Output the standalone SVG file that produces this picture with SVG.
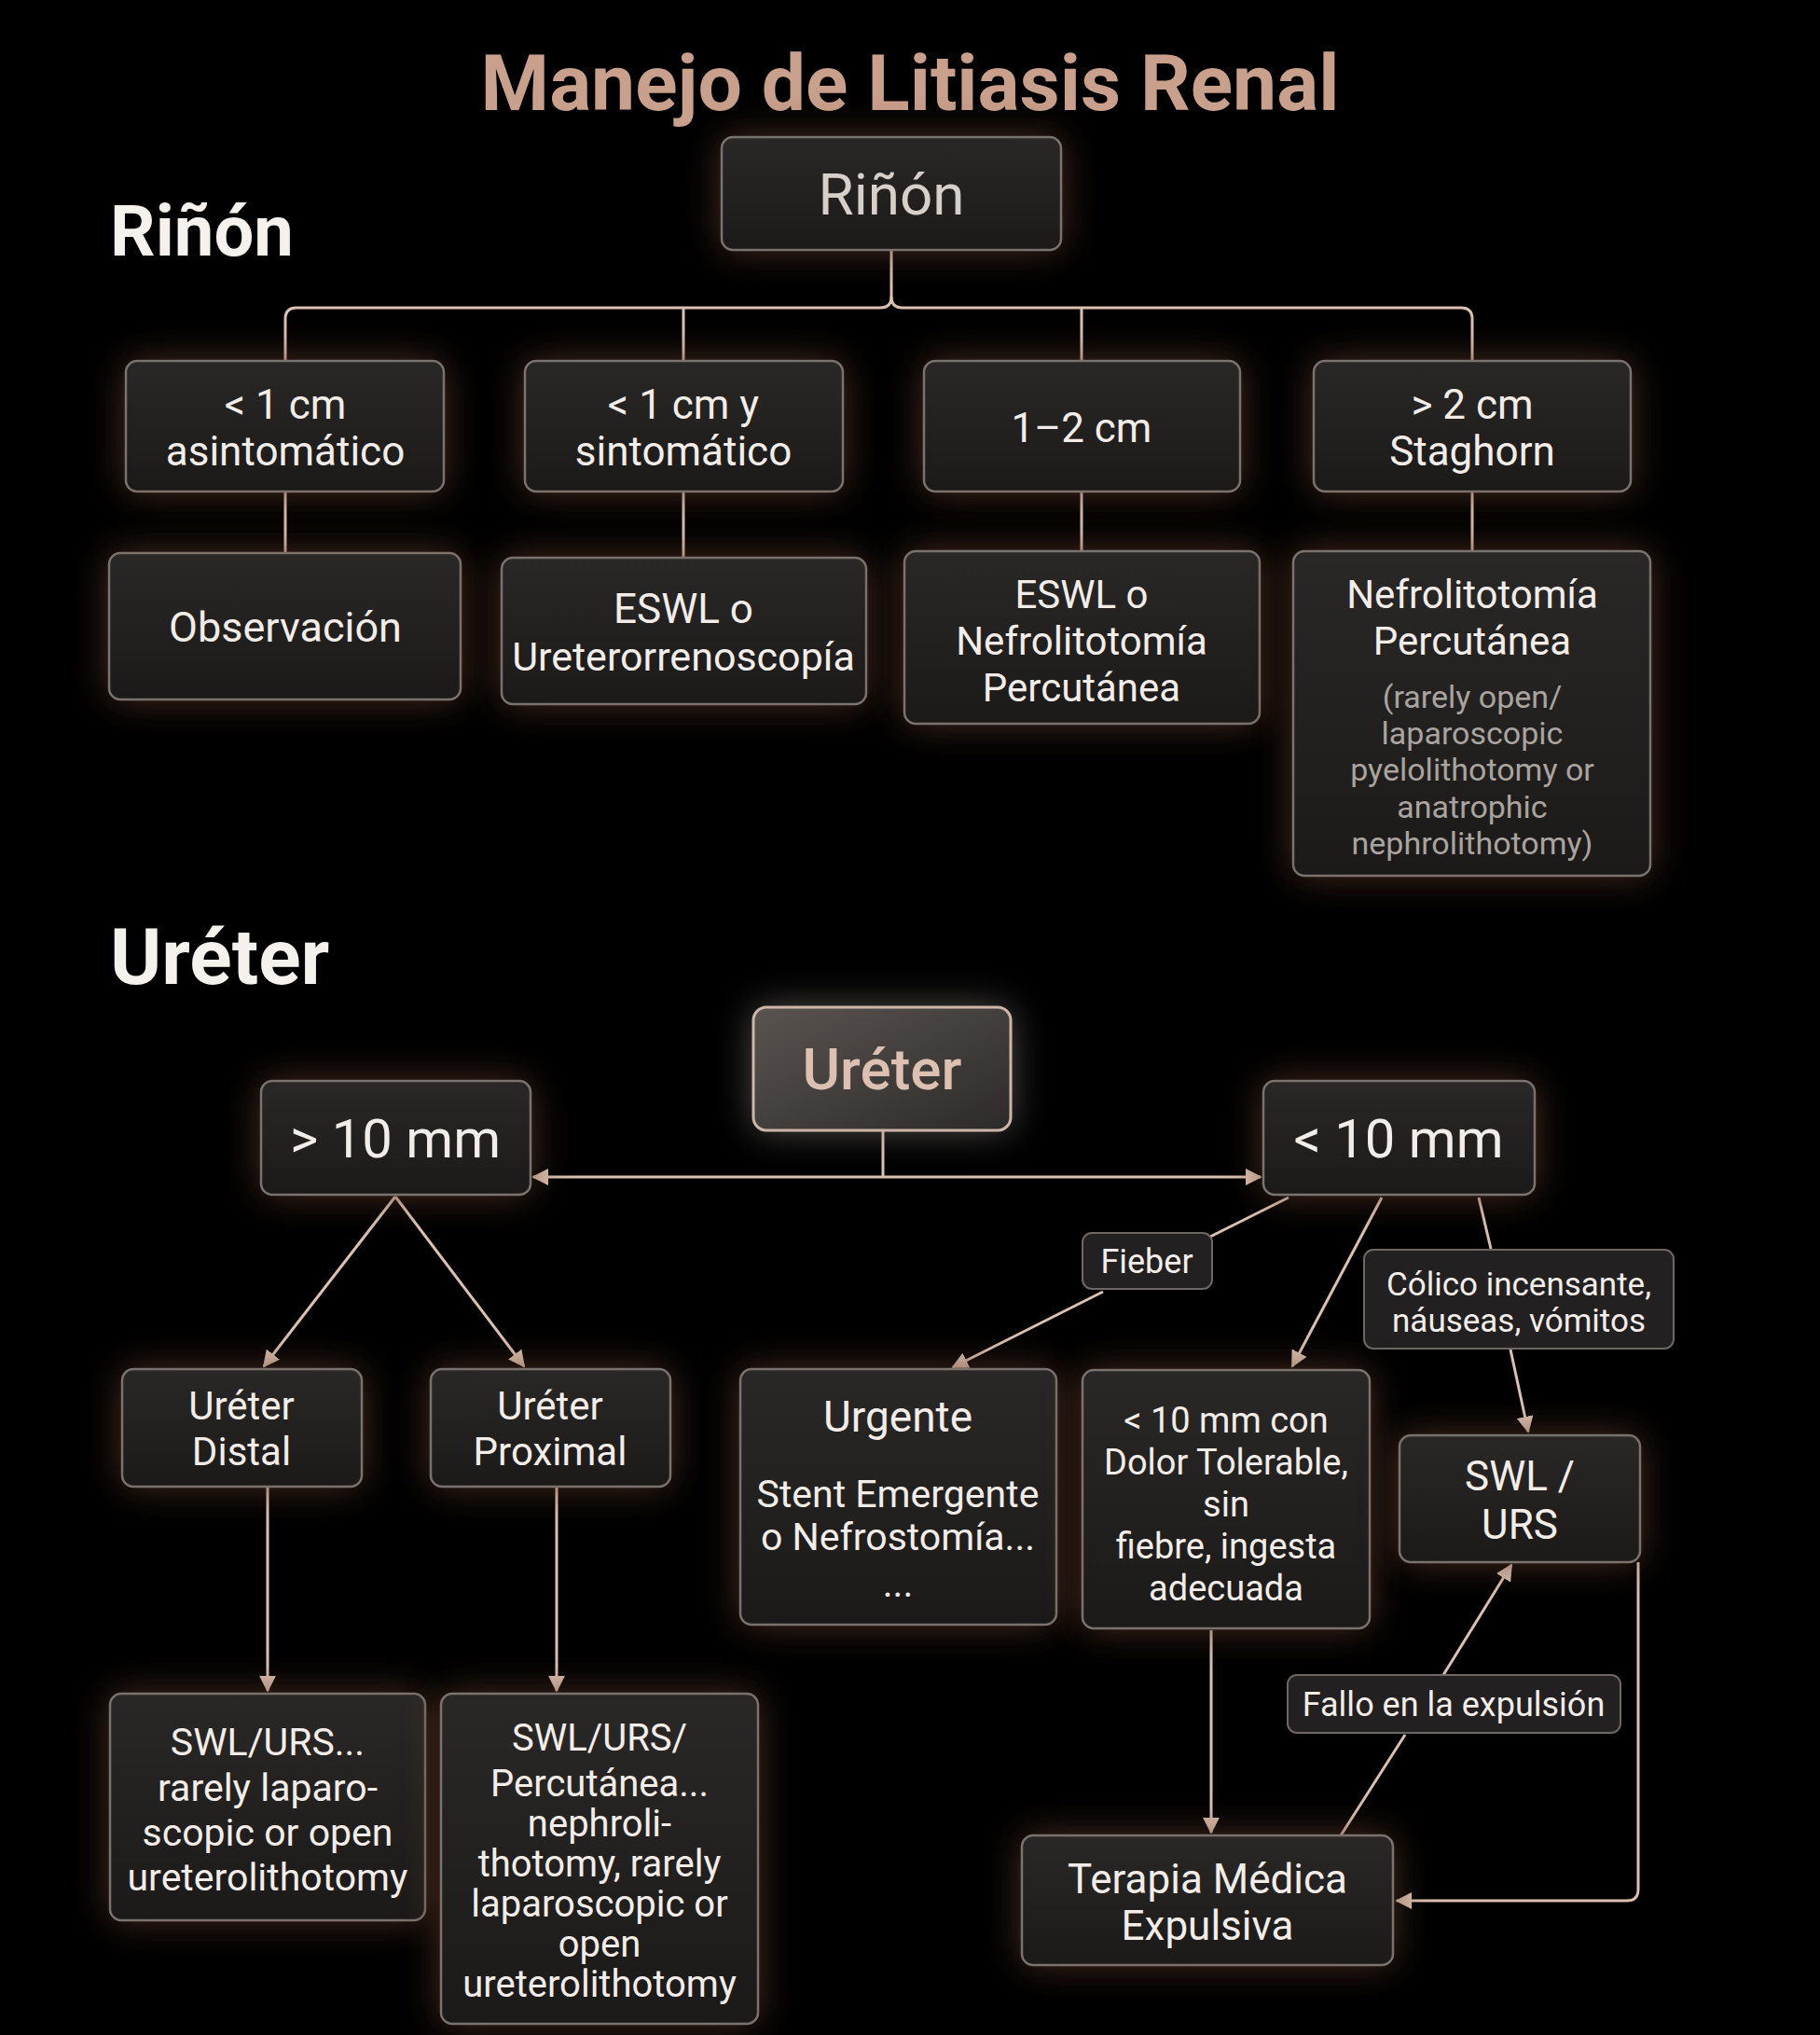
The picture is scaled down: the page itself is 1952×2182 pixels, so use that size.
<svg xmlns="http://www.w3.org/2000/svg" width="1952" height="2182" viewBox="0 0 1952 2182">
<defs>
<linearGradient id="boxfill" x1="0" y1="0" x2="0" y2="1">
<stop offset="0" stop-color="#2a2827"/>
<stop offset="1" stop-color="#1b1a19"/>
</linearGradient>
<linearGradient id="topfill" x1="0" y1="0" x2="1" y2="1">
<stop offset="0" stop-color="#5a5450"/>
<stop offset="1" stop-color="#2c2a29"/>
</linearGradient>
<filter id="glow" x="-50%" y="-50%" width="200%" height="200%">
<feGaussianBlur stdDeviation="20"/>
</filter>
<marker id="arr" viewBox="0 0 10 10" refX="9" refY="5" markerWidth="6" markerHeight="6" markerUnits="strokeWidth" orient="auto-start-reverse">
<path d="M0,0 L10,5 L0,10 z" fill="#dcc0b0"/>
</marker>
<style>
.halo{fill:#5e3b2b;opacity:0.8;filter:url(#glow)}
.halo2{fill:#8a8480;opacity:0.6;filter:url(#glow)}
.box{fill:url(#boxfill);stroke:#7a726d;stroke-width:2.5}
.lbl{fill:#222020;stroke:#6e6763;stroke-width:2}
.t{font-family:Roboto,"Liberation Sans",sans-serif;fill:#f2ede8;text-anchor:middle}
.sm{font-family:Roboto,"Liberation Sans",sans-serif;fill:#a9a49f;text-anchor:middle;font-size:34px}
.h{font-family:Roboto,"Liberation Sans",sans-serif;font-weight:700;fill:#f5f1ec}
.c{fill:none;stroke:#dcc0b0;stroke-width:3}
.ca{fill:none;stroke:#dcc0b0;stroke-width:3;marker-end:url(#arr)}
</style>
</defs>
<rect width="1952" height="2182" fill="#000"/>

<text x="976" y="118" class="h" font-size="84" text-anchor="middle" style="fill:#c9a08c">Manejo de Litiasis Renal</text>
<text x="118" y="274" class="h" font-size="76">Riñón</text>
<text x="118" y="1055" class="h" font-size="84">Uréter</text>

<g id="connectors">
<path class="c" d="M956,268 V318 Q956,330 944,330 H318 Q306,330 306,342 V387"/>
<path class="c" d="M956,318 Q956,330 968,330 H1567 Q1579,330 1579,342 V387"/>
<path class="c" d="M733,330 V387"/>
<path class="c" d="M1160,330 V387"/>
<path class="c" d="M306,527 V593"/>
<path class="c" d="M733,527 V598"/>
<path class="c" d="M1160,527 V591"/>
<path class="c" d="M1579,527 V591"/>

<path class="c" d="M947,1212 V1262"/>
<path class="ca" d="M947,1262 H572"/>
<path class="ca" d="M947,1262 H1352"/>
<path class="ca" d="M424,1283 L283,1465"/>
<path class="ca" d="M424,1283 L562,1465"/>
<path class="ca" d="M287,1594 V1813"/>
<path class="ca" d="M597,1594 V1813"/>

<path class="c" d="M1382,1284 L1298,1326"/>
<path class="ca" d="M1183,1385 L1022,1466"/>
<path class="ca" d="M1482,1284 L1386,1465"/>
<path class="c" d="M1586,1284 L1599,1339"/>
<path class="ca" d="M1620,1447 L1639,1535"/>
<path class="ca" d="M1299,1748 V1965"/>
<path class="c" d="M1438,1968 L1507,1860"/>
<path class="ca" d="M1548,1796 L1621,1678"/>
<path class="ca" d="M1757,1675 V2026 Q1757,2038 1745,2038 H1498"/>
</g>

<g id="n-rinon">
<rect class="halo" x="774" y="147" width="364" height="121" rx="12"/>
<rect class="box" x="774" y="147" width="364" height="121" rx="12"/>
<text class="t" x="956" y="230" font-size="62" style="fill:#d6cfca">Riñón</text>
</g>

<g id="n-a1">
<rect class="halo" x="135" y="387" width="341" height="140" rx="12"/>
<rect class="box" x="135" y="387" width="341" height="140" rx="12"/>
<text class="t" x="306" y="449" font-size="44">&lt; 1 cm</text>
<text class="t" x="306" y="499" font-size="44">asintomático</text>
</g>
<g id="n-a2">
<rect class="halo" x="563" y="387" width="341" height="140" rx="12"/>
<rect class="box" x="563" y="387" width="341" height="140" rx="12"/>
<text class="t" x="733" y="449" font-size="44">&lt; 1 cm y</text>
<text class="t" x="733" y="499" font-size="44">sintomático</text>
</g>
<g id="n-a3">
<rect class="halo" x="991" y="387" width="339" height="140" rx="12"/>
<rect class="box" x="991" y="387" width="339" height="140" rx="12"/>
<text class="t" x="1160" y="474" font-size="44">1–2 cm</text>
</g>
<g id="n-a4">
<rect class="halo" x="1409" y="387" width="340" height="140" rx="12"/>
<rect class="box" x="1409" y="387" width="340" height="140" rx="12"/>
<text class="t" x="1579" y="449" font-size="44">&gt; 2 cm</text>
<text class="t" x="1579" y="499" font-size="44">Staghorn</text>
</g>

<g id="n-b1">
<rect class="halo" x="117" y="593" width="377" height="157" rx="12"/>
<rect class="box" x="117" y="593" width="377" height="157" rx="12"/>
<text class="t" x="306" y="688" font-size="45">Observación</text>
</g>
<g id="n-b2">
<rect class="halo" x="538" y="598" width="391" height="157" rx="12"/>
<rect class="box" x="538" y="598" width="391" height="157" rx="12"/>
<text class="t" x="733" y="668" font-size="44">ESWL o</text>
<text class="t" x="733" y="719" font-size="43">Ureterorrenoscopía</text>
</g>
<g id="n-b3">
<rect class="halo" x="970" y="591" width="381" height="185" rx="12"/>
<rect class="box" x="970" y="591" width="381" height="185" rx="12"/>
<text class="t" x="1160" y="652" font-size="42">ESWL o</text>
<text class="t" x="1160" y="702" font-size="42">Nefrolitotomía</text>
<text class="t" x="1160" y="752" font-size="42">Percutánea</text>
</g>
<g id="n-b4">
<rect class="halo" x="1387" y="591" width="383" height="348" rx="12"/>
<rect class="box" x="1387" y="591" width="383" height="348" rx="12"/>
<text class="t" x="1579" y="652" font-size="42">Nefrolitotomía</text>
<text class="t" x="1579" y="702" font-size="42">Percutánea</text>
<text class="sm" x="1579" y="759">(rarely open/</text>
<text class="sm" x="1579" y="798">laparoscopic</text>
<text class="sm" x="1579" y="837">pyelolithotomy or</text>
<text class="sm" x="1579" y="877">anatrophic</text>
<text class="sm" x="1579" y="916">nephrolithotomy)</text>
</g>

<g id="n-ureter">
<rect class="halo2" x="808" y="1080" width="276" height="132" rx="14"/>
<rect x="808" y="1080" width="276" height="132" rx="14" fill="url(#topfill)" stroke="#cdb6a8" stroke-width="3"/>
<text class="t" x="946" y="1168" font-size="62" font-weight="500" style="fill:#dcc0b2">Uréter</text>
</g>

<g id="n-gt10">
<rect class="halo" x="280" y="1159" width="289" height="122" rx="12"/>
<rect class="box" x="280" y="1159" width="289" height="122" rx="12"/>
<text class="t" x="424" y="1241" font-size="58">&gt; 10 mm</text>
</g>
<g id="n-lt10">
<rect class="halo" x="1355" y="1159" width="291" height="122" rx="12"/>
<rect class="box" x="1355" y="1159" width="291" height="122" rx="12"/>
<text class="t" x="1500" y="1241" font-size="58">&lt; 10 mm</text>
</g>

<g id="n-distal">
<rect class="halo" x="131" y="1468" width="257" height="126" rx="12"/>
<rect class="box" x="131" y="1468" width="257" height="126" rx="12"/>
<text class="t" x="259" y="1522" font-size="42">Uréter</text>
<text class="t" x="259" y="1571" font-size="42">Distal</text>
</g>
<g id="n-prox">
<rect class="halo" x="462" y="1468" width="257" height="126" rx="12"/>
<rect class="box" x="462" y="1468" width="257" height="126" rx="12"/>
<text class="t" x="590" y="1522" font-size="42">Uréter</text>
<text class="t" x="590" y="1571" font-size="42">Proximal</text>
</g>

<g id="n-distal-tx">
<rect class="halo" x="118" y="1816" width="338" height="243" rx="12"/>
<rect class="box" x="118" y="1816" width="338" height="243" rx="12"/>
<text class="t" x="287" y="1882" font-size="41">SWL/URS...</text>
<text class="t" x="287" y="1931" font-size="41">rarely laparo-</text>
<text class="t" x="287" y="1979" font-size="41">scopic or open</text>
<text class="t" x="287" y="2027" font-size="41">ureterolithotomy</text>
</g>
<g id="n-prox-tx">
<rect class="halo" x="473" y="1816" width="340" height="354" rx="12"/>
<rect class="box" x="473" y="1816" width="340" height="354" rx="12"/>
<text class="t" x="643" y="1877" font-size="40">SWL/URS/</text>
<text class="t" x="643" y="1926" font-size="40">Percutánea...</text>
<text class="t" x="643" y="1969" font-size="40">nephroli-</text>
<text class="t" x="643" y="2012" font-size="40">thotomy, rarely</text>
<text class="t" x="643" y="2055" font-size="40">laparoscopic or</text>
<text class="t" x="643" y="2098" font-size="40">open</text>
<text class="t" x="643" y="2141" font-size="40">ureterolithotomy</text>
</g>

<g id="l-fieber">
<rect class="lbl" x="1161" y="1322" width="139" height="60" rx="10"/>
<text class="t" x="1230" y="1365" font-size="36">Fieber</text>
</g>
<g id="l-colico">
<rect class="lbl" x="1463" y="1340" width="332" height="106" rx="10"/>
<text class="t" x="1629" y="1389" font-size="35">Cólico incensante,</text>
<text class="t" x="1629" y="1428" font-size="35">náuseas, vómitos</text>
</g>

<g id="n-urgente">
<rect class="halo" x="794" y="1468" width="339" height="274" rx="12"/>
<rect class="box" x="794" y="1468" width="339" height="274" rx="12"/>
<text class="t" x="963" y="1535" font-size="46">Urgente</text>
<text class="t" x="963" y="1616" font-size="41">Stent Emergente</text>
<text class="t" x="963" y="1662" font-size="41">o Nefrostomía...</text>
<text class="t" x="963" y="1712" font-size="41">...</text>
</g>
<g id="n-dolor">
<rect class="halo" x="1161" y="1469" width="308" height="277" rx="12"/>
<rect class="box" x="1161" y="1469" width="308" height="277" rx="12"/>
<text class="t" x="1315" y="1536" font-size="38">&lt; 10 mm con</text>
<text class="t" x="1315" y="1581" font-size="38">Dolor Tolerable,</text>
<text class="t" x="1315" y="1626" font-size="38">sin</text>
<text class="t" x="1315" y="1671" font-size="38">fiebre, ingesta</text>
<text class="t" x="1315" y="1716" font-size="38">adecuada</text>
</g>
<g id="n-swl">
<rect class="halo" x="1501" y="1539" width="258" height="136" rx="12"/>
<rect class="box" x="1501" y="1539" width="258" height="136" rx="12"/>
<text class="t" x="1630" y="1598" font-size="44">SWL /</text>
<text class="t" x="1630" y="1650" font-size="44">URS</text>
</g>
<g id="n-terapia">
<rect class="halo" x="1096" y="1968" width="398" height="139" rx="12"/>
<rect class="box" x="1096" y="1968" width="398" height="139" rx="12"/>
<text class="t" x="1295" y="2030" font-size="44">Terapia Médica</text>
<text class="t" x="1295" y="2080" font-size="44">Expulsiva</text>
</g>
<g id="l-fallo">
<rect class="lbl" x="1381" y="1796" width="357" height="62" rx="10"/>
<text class="t" x="1559" y="1840" font-size="36">Fallo en la expulsión</text>
</g>
</svg>
